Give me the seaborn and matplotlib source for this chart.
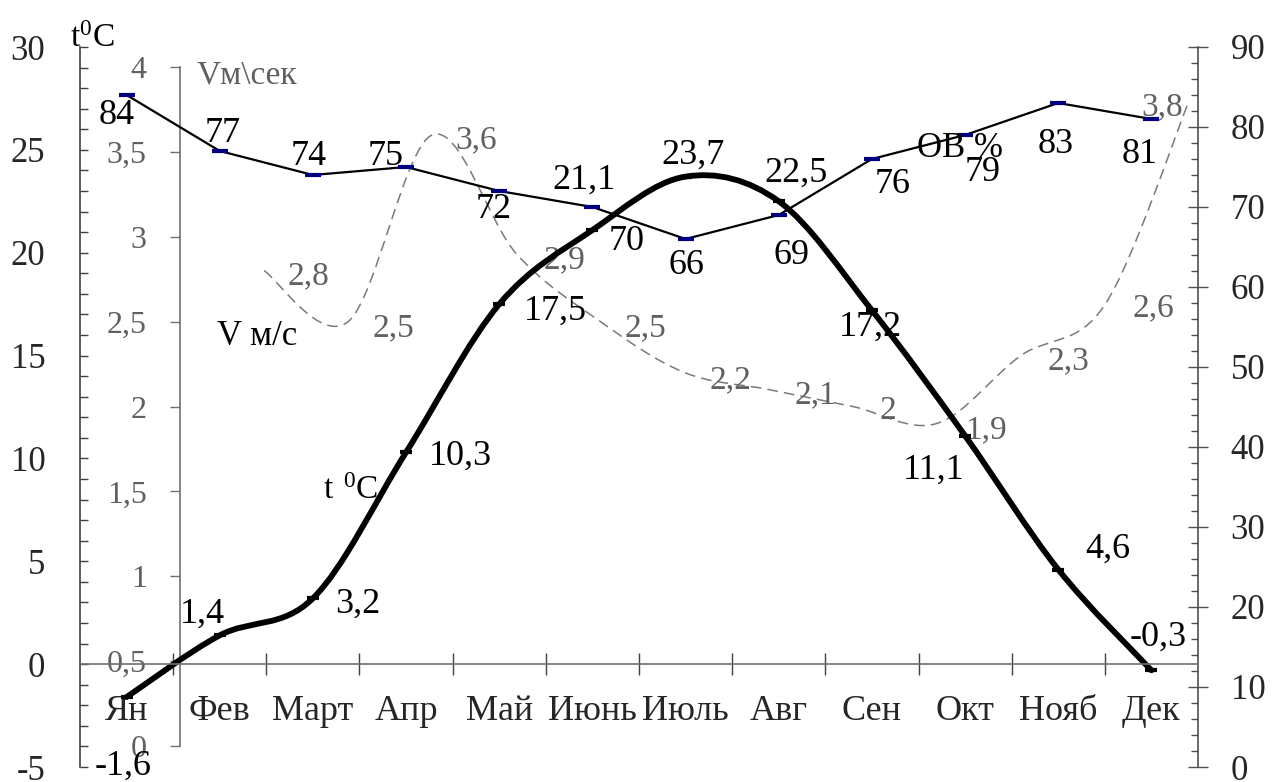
import numpy as np
import matplotlib
matplotlib.use("Agg")
import matplotlib.pyplot as plt
import seaborn as sns
from matplotlib.path import Path
from matplotlib.patches import PathPatch
from matplotlib.ticker import FixedLocator, MultipleLocator

# ---------------- data ----------------
months = ["Ян", "Фев", "Март", "Апр", "Май", "Июнь", "Июль", "Авг", "Сен", "Окт", "Нояб", "Дек"]
temperature = [-1.6, 1.4, 3.2, 10.3, 17.5, 21.1, 23.7, 22.5, 17.2, 11.1, 4.6, -0.3]
humidity = [84, 77, 74, 75, 72, 70, 66, 69, 76, 79, 83, 81]
wind = [2.8, 2.5, 3.6, 2.9, 2.5, 2.2, 2.1, 2.0, 1.9, 2.3, 2.6, 3.8]

temp_ticks = [-5, 0, 5, 10, 15, 20, 25, 30]
hum_ticks = [0, 10, 20, 30, 40, 50, 60, 70, 80, 90]
wind_ticks = [0, 0.5, 1, 1.5, 2, 2.5, 3, 3.5, 4]

# ---------------- label layout (pixel offsets of label centre from point) ----------------
temp_lbl_off = [(-3, 65), (-17, -25), (45, 2), (54, 0), (56, 3), (-8, -54),
                (7, -25), (17, -32), (-1, 13), (-31, 31), (50, -24), (7, -37)]
hum_lbl_off = [(-10, 17), (3, -21), (-4, -22), (-20, -14), (-6, 15), (34, 31),
               (1, 23), (13, 37), (21, 22), (18, 34), (-3, 38), (-12, 32)]
wind_lbl_off = [(23, 2), (24, 3), (23, 2), (27, 3), (24, 3), (25, 4),
                (26, 2), (27, 1), (28, 3), (27, 2), (28, 0), (-6, 3)]

def fmt(v):
    return f"{v:g}".replace(".", ",")

# ---------------- style ----------------
sns.set_theme(style="white")
plt.rcParams["font.family"] = ["Liberation Serif", "DejaVu Serif"]
plt.rcParams["mathtext.fontset"] = "custom"
plt.rcParams["mathtext.rm"] = "Liberation Serif"
plt.rcParams["axes.unicode_minus"] = False

W, H = 1273, 782
PT = 72.0 / 100.0  # px -> points


def rect(x0, y0, x1, y1):
    return [x0 / W, 1 - y1 / H, (x1 - x0) / W, (y1 - y0) / H]


def smooth_path(x, y):
    x = np.asarray(x, float)
    y = np.asarray(y, float)
    n = len(x)
    verts = [(x[0], y[0])]
    codes = [Path.MOVETO]
    for i in range(n - 1):
        i0 = max(i - 1, 0)
        i3 = min(i + 2, n - 1)
        c1 = (x[i] + (x[i + 1] - x[i0]) / 6, y[i] + (y[i + 1] - y[i0]) / 6)
        c2 = (x[i + 1] - (x[i3] - x[i]) / 6, y[i + 1] - (y[i3] - y[i]) / 6)
        verts += [c1, c2, (x[i + 1], y[i + 1])]
        codes += [Path.CURVE4] * 3
    return Path(verts, codes)


def label(axis, xv, yv, text, off, size, color, ha="center"):
    dx, dy = off
    em = size / PT
    axis.annotate(text, xy=(xv, yv), xytext=(dx * PT, -(dy + 0.34 * em) * PT),
                  textcoords="offset points", ha=ha, va="baseline",
                  fontsize=size, color=color, annotation_clip=False)


fig = plt.figure(figsize=(12.73, 7.82), dpi=100)
fig.patch.set_facecolor("white")

axw = fig.add_axes(rect(180, 67, 1189, 746))
ax = fig.add_axes(rect(80, 47, 1198, 767))
axh = ax.twinx()
axw.set_zorder(1)
axh.set_zorder(2)
ax.set_zorder(3)
for a in (axw, ax, axh):
    a.patch.set_visible(False)

x_idx = np.arange(len(months))
gray_txt = "#606060"

# ---------------- wind (own axis) ----------------
wpatch = PathPatch(smooth_path(x_idx, wind), fill=False, edgecolor="#7a7a7a",
                   linewidth=1.1, linestyle=(0, (7, 4)))
axw.add_patch(wpatch)
axw.set_xlim(-1, 11)
axw.set_ylim(0, 4)
for s in ["top", "right", "bottom"]:
    axw.spines[s].set_visible(False)
axw.spines["left"].set_color("#707070")
axw.spines["left"].set_linewidth(1.2)
axw.xaxis.set_visible(False)
axw.yaxis.set_major_locator(FixedLocator(wind_ticks))
axw.set_yticklabels([fmt(t) for t in wind_ticks])
axw.tick_params(axis="y", direction="out", length=7, width=1, color="#707070",
                labelsize=23, labelcolor=gray_txt, pad=17, left=True)
for i, v in enumerate(wind):
    label(axw, i, v, fmt(v), wind_lbl_off[i], 24, gray_txt,
          ha="left" if i < len(wind) - 1 else "right")

# ---------------- humidity ----------------
sns.lineplot(x=x_idx, y=humidity, ax=axh, color="black", linewidth=1.6,
             marker="_", markersize=11, mew=3, mec="#000080")
axh.set_ylim(0, 90)
axh.set_ylabel("")
for s in ["top", "left", "bottom"]:
    axh.spines[s].set_visible(False)
axh.spines["right"].set_color("#505050")
axh.spines["right"].set_linewidth(1.2)
axh.yaxis.set_major_locator(FixedLocator(hum_ticks))
axh.set_yticklabels([str(t) for t in hum_ticks])
axh.yaxis.set_minor_locator(MultipleLocator(2))
axh.tick_params(axis="y", which="major", direction="inout", length=15, width=1,
                color="#505050", labelsize=25, pad=16, right=True)
axh.tick_params(axis="y", which="minor", direction="in", length=5, width=1,
                color="#505050", right=True)
for i, v in enumerate(humidity):
    label(axh, i, v, fmt(v), hum_lbl_off[i], 26, "black")

# ---------------- temperature ----------------
tpatch = PathPatch(smooth_path(x_idx, temperature), fill=False, edgecolor="black",
                   linewidth=4.2, capstyle="round", joinstyle="round")
ax.add_patch(tpatch)
sns.lineplot(x=x_idx, y=temperature, ax=ax, color="black", linestyle="none",
             marker="_", markersize=9, mew=3, mec="black")
ax.set_xlim(-0.5, 11.5)
ax.set_ylim(-5, 30)
ax.set_xlabel("")
ax.set_ylabel("")
for s in ["top", "right"]:
    ax.spines[s].set_visible(False)
ax.spines["bottom"].set_position(("data", 0))
ax.spines["bottom"].set_color("#707070")
ax.spines["bottom"].set_linewidth(1.2)
ax.spines["left"].set_color("#404040")
ax.spines["left"].set_linewidth(1.2)
ax.xaxis.set_major_locator(FixedLocator(x_idx))
ax.set_xticklabels(months)
ax.xaxis.set_minor_locator(FixedLocator(np.arange(0.5, 11, 1)))
ax.tick_params(axis="x", which="major", length=0, pad=22, labelsize=26, bottom=True)
ax.tick_params(axis="x", which="minor", direction="inout", length=16, width=1,
               color="#404040", bottom=True)
ax.yaxis.set_major_locator(FixedLocator(temp_ticks))
ax.set_yticklabels([str(t) for t in temp_ticks])
ax.yaxis.set_minor_locator(MultipleLocator(1))
ax.tick_params(axis="y", which="both", direction="in", length=6, width=1,
               color="#404040", left=True)
ax.tick_params(axis="y", which="major", labelsize=25, pad=25)
for i, v in enumerate(temperature):
    label(ax, i, v, fmt(v), temp_lbl_off[i], 26, "black")

# ---------------- free texts ----------------
def ftext(xpx, ypx_base, s, size, color="black"):
    fig.text(xpx / W, 1 - ypx_base / H, s, fontsize=size, color=color,
             ha="left", va="baseline")

ftext(70, 47, r"$\mathregular{t^0C}$", 24)
ftext(197, 83, "Vм\\сек", 24, gray_txt)
ftext(217, 345, "V м/с", 25)
ftext(323, 499, r"$\mathregular{t\ ^0C}$", 24)
ftext(917, 157, "ОВ %", 25)

fig.savefig("out.png", dpi=100, facecolor="white")
